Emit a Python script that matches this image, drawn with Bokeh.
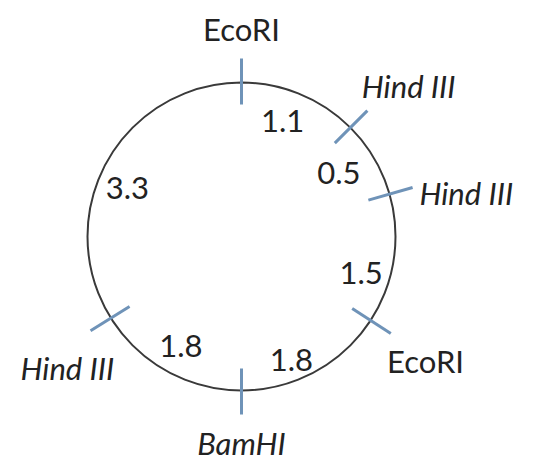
import math
from bokeh.plotting import figure
from bokeh.models import Range1d
from bokeh.core.properties import value
from bokeh.embed import file_html
from bokeh.resources import INLINE

# ---- data ----
site_names = ["EcoRI", "Hind III", "Hind III", "EcoRI", "BamHI", "Hind III"]
site_italic = [False, True, True, False, True, True]
site_deg = [0, 45, 74, 123, 180, 238]            # clockwise from top
site_label_deg = [0, 48, 79, 124, 180, 233]
site_label_r = [208, 225, 229, 222, 206, 218]

fragment_kb = ["1.1", "0.5", "1.5", "1.8", "1.8", "3.3"]
fragment_label_deg = [19.5, 57, 107, 158, 209, 293]
fragment_label_r = [123, 116, 125, 133, 125, 124]

# ---- geometry / style ----
W, H = 527, 466
cx, cy, R = 241, 236, 154
tick_in, tick_out = 22, 24
FONT = "Lato"
TXT = "#222222"

def pt(deg, r):
    a = math.radians(deg)
    return cx + r * math.sin(a), cy - r * math.cos(a)

p = figure(width=W, height=H, output_backend="svg", toolbar_location=None,
           x_range=Range1d(0, W), y_range=Range1d(H, 0),
           min_border=0, outline_line_color=None)
p.axis.visible = False
p.grid.visible = False
p.background_fill_color = "white"

p.circle(x=[cx], y=[cy], radius=R, fill_color=None, line_color="#3a3a3a", line_width=2)

xs, ys = [], []
for d in site_deg:
    x0, y0 = pt(d, R - tick_in)
    x1, y1 = pt(d, R + tick_out)
    xs.append([x0, x1]); ys.append([y0, y1])
p.multi_line(xs=xs, ys=ys, line_color="#6f93b8", line_width=3)

for italic in (False, True):
    lx, ly, lt = [], [], []
    for n, it, d, r in zip(site_names, site_italic, site_label_deg, site_label_r):
        if it == italic:
            x, y = pt(d, r)
            lx.append(x); ly.append(y); lt.append(n)
    p.text(x=lx, y=ly, text=lt, text_font=value(FONT), text_font_size="31px",
           text_font_style="italic" if italic else "normal", text_color=TXT,
           text_align="center", text_baseline="middle")

fx, fy = [], []
for d, r in zip(fragment_label_deg, fragment_label_r):
    x, y = pt(d, r)
    fx.append(x); fy.append(y)
p.text(x=fx, y=fy, text=fragment_kb, text_font=value(FONT), text_font_size="31px",
       text_color=TXT, text_align="center", text_baseline="middle")

open("out.html", "w").write(file_html(p, INLINE))
